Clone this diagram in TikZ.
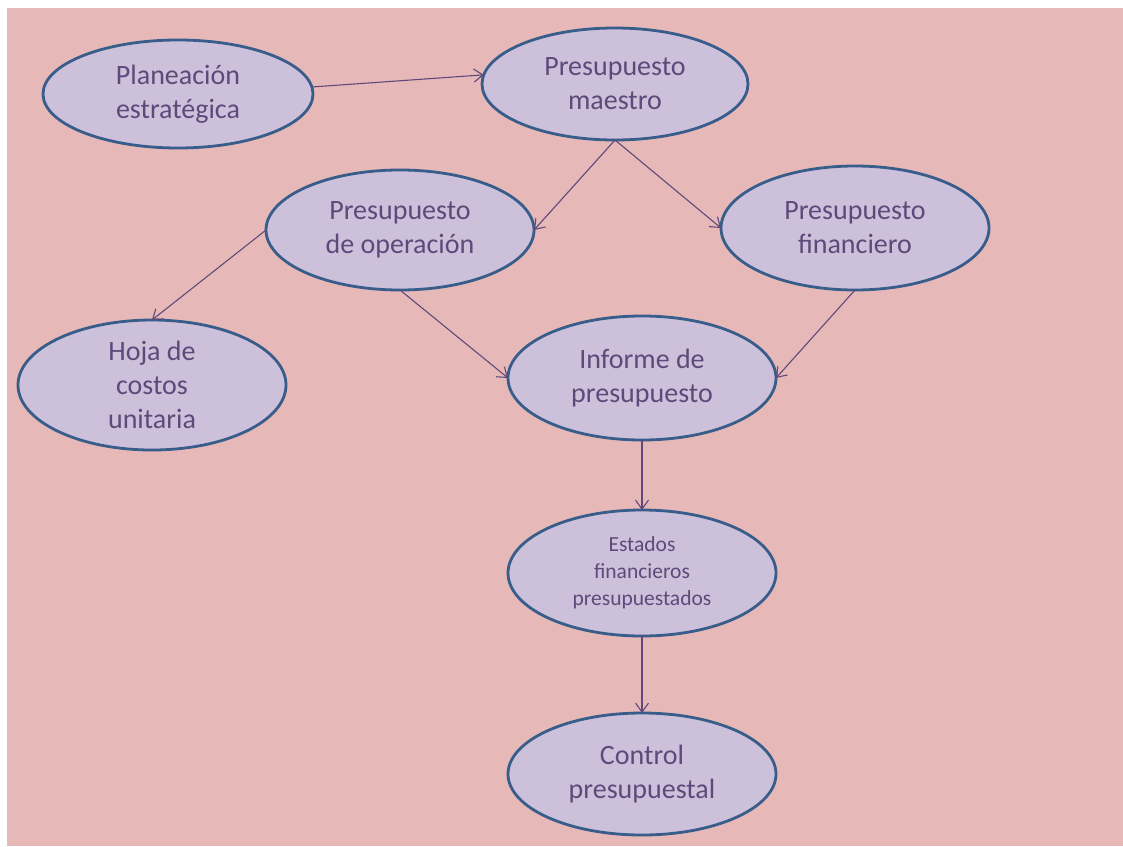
\documentclass[tikz,border=0pt]{standalone}
\usepackage{fontspec}
\setmainfont{Carlito}
\usepackage{xcolor}
\usetikzlibrary{
    positioning,
    arrows.meta,
    shapes.geometric
}
\definecolor{sheetpink}{HTML}{E6B9B8}
\definecolor{itemfill}{HTML}{CCC0DA}
\definecolor{itemborder}{HTML}{385D8A}
\definecolor{itemtext}{HTML}{5F497A}
\tikzset{%
    budget item/.style={%
        ellipse,
        draw=itemborder,
        line width=2.8pt,
        fill=itemfill,
        text=itemtext,
        align=center,
        inner sep = 0pt,
        outer sep = 0pt,
        minimum width=268pt,
        minimum height=122pt,
        font=\fontsize{28}{34}\selectfont
    },
    small item/.style={%
        budget item,
        font=\fontsize{21.5}{27}\selectfont
    },
    arrow/.style={%
        draw=itemtext,
        line width=1.1pt,
        >={Straight Barb[length=9pt,width=13pt]},
    },
}

\begin{document}
\begin{tikzpicture}[x=1pt, y=-1pt]
    \useasboundingbox (0,0) rectangle (1123,846);
    \fill[sheetpink] (7,8) rectangle (1123,846);

    \node[budget item, minimum width=270pt, minimum height=108pt] (planning) at (178,94) {Planeación\\estratégica};
    \node[budget item, minimum width=266pt, minimum height=112pt] (master) at (615,84) {Presupuesto\\maestro};
    \node[budget item, minimum height=120pt] (operation) at (400,230) {Presupuesto\\de operación};
    \node[budget item, minimum height=124pt] (financial) at (855,228) {Presupuesto\\financiero};
    \node[budget item, minimum height=130pt] (costsheet) at (152,385) {Hoja de\\costos\\unitaria};
    \node[budget item, minimum height=124pt] (report) at (642,378) {Informe de\\presupuesto};
    \node[small item, minimum height=126pt] (statements) at (642,573) {Estados\\financieros\\presupuestados};
    \node[budget item] (control) at (642,774) {Control\\presupuestal};

    \draw (planning.3) edge[arrow, ->] (master.176);
    \draw (master.south) edge[arrow, ->] (operation.east);
    \draw (master.south) edge[arrow, ->] (financial.west);
    \draw (operation.west) edge[arrow, ->] (costsheet.north);
    \draw (operation.south) edge[arrow, ->] (report.west);
    \draw (financial.south) edge[arrow, ->] (report.east);
    \draw (report.south) edge[arrow, ->] (statements.north);
    \draw (statements.south) edge[arrow, ->] (control.north);
\end{tikzpicture}
\end{document}
